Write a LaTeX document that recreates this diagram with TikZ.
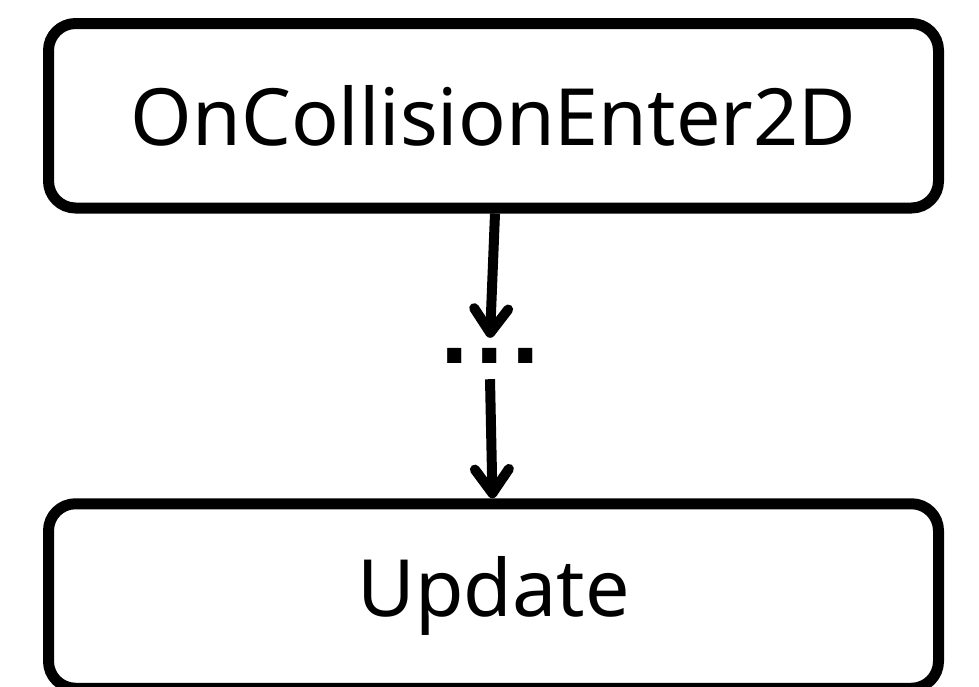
\documentclass[tikz,border=0pt]{standalone}
\usepackage{fontspec}
\setmainfont{Noto Sans}
\newfontfamily\dotfont{DejaVu Sans}
\usetikzlibrary{arrows.meta}
\tikzset{
  box/.style={draw=black, line width=11pt, rounded corners=27pt, minimum width=890pt, minimum height=184.5pt, inner sep=0pt, font=\fontsize{79}{90}\selectfont},
  conn/.style={line width=10pt, -{Straight Barb[length=24pt, width=34pt, round]}},
}
\begin{document}
\begin{tikzpicture}[x=1pt,y=-1pt]
\useasboundingbox (0,0) rectangle (979,686);
\node[box] (top) at (493.5,115.75) {OnCollisionEnter2D};
\node[box] (bot) at (493.5,596) {Update};
\node[inner sep=0pt, minimum height=43pt, font=\dotfont\bfseries\fontsize{80}{80}\selectfont] (dots) at (490,358.5) {\raisebox{6pt}{.\kern5pt.\kern5pt.}};
\draw[conn] ([xshift=1.5pt]top.south) -- ([yshift=-1pt]dots.north);
\draw[conn] ([yshift=1pt]dots.south) -- ([xshift=-1pt]bot.north);
\end{tikzpicture}
\end{document}
